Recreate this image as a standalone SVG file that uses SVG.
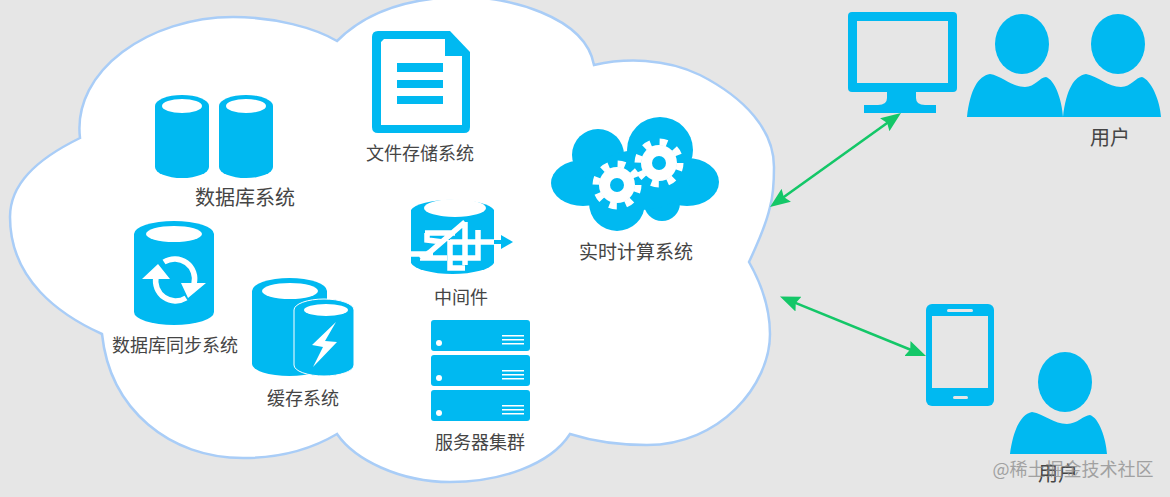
<svg xmlns="http://www.w3.org/2000/svg" width="1170" height="497" viewBox="0 0 1170 497">
<style>
.i{fill:#00b9f1}.w{fill:#fff}.b{fill:#e6e6e6}
.t{font-family:"Noto Sans CJK SC","Liberation Sans",sans-serif;font-size:18px;fill:#454545;text-anchor:middle}
.c{fill:none;stroke:#14c768;stroke-width:2.6;marker-start:url(#a);marker-end:url(#a)}
.g{fill:none;stroke:#fff;stroke-width:7;stroke-dasharray:7.500 8.990}
.r{fill:#fff}
.s{fill:none;stroke:#fff;stroke-width:5.500}
</style>
<defs>
<marker id="a" viewBox="0 0 20 16" refX="12" refY="8" markerWidth="20" markerHeight="16" orient="auto-start-reverse" markerUnits="userSpaceOnUse"><path d="M0 0L20 8L0 16L3 8Z" fill="#14c768"/></marker>
</defs>
<rect width="1170" height="497" class="b"/>
<g id="cloud"><path d="M337 41C358 20 395 -3 465 -3C505 -3 585 15 594 65C625 58 665 58 700 75C745 98 774 130 774 167C774 185 772 200 770 207C766 225 757 245 749 262C762 285 770 310 770 334C770 385 720 445 647 445C620 445 592 441 570 434C550 465 500 482 450 482C400 482 355 460 337 434C310 450 280 458 243 458C170 458 110 410 102 334C60 315 10 280 10 217C10 185 35 160 80 138C72 70 150 17 233 17C275 17 315 28 337 41Z" fill="#fff" stroke="#a9cdf7" stroke-width="2.500"/></g>
<g id="connectors">
<line class="c" x1="776.500" y1="202.300" x2="894.500" y2="117.700"/>
<line class="c" x1="787.400" y1="299.600" x2="918.600" y2="353"/>
</g>
<g id="db">
<path class="i" d="M155 106A27 11 0 0 1 209 106V167A27 11 0 0 1 155 167Z"/><ellipse class="w" cx="182" cy="106" rx="20" ry="7"/>
<path class="i" d="M219 106A27 11 0 0 1 273 106V167A27 11 0 0 1 219 167Z"/><ellipse class="w" cx="246" cy="106" rx="20" ry="7"/>
<text class="t" x="245" y="205" style="font-size:20px">数据库系统</text></g>
<g id="file"><path class="i" d="M378 31H450L470 52V127Q470 133 464 133H378Q372 133 372 127V37Q372 31 378 31Z"/><path class="w" d="M384 39H445V56H462V125H381V42Z"/><rect class="i" x="397" y="63" width="46" height="9"/><rect class="i" x="397" y="80" width="46" height="8"/><rect class="i" x="397" y="96" width="46" height="8"/>
<text class="t" x="420" y="160">文件存储系统</text></g>
<g id="compute">
<ellipse class="i" cx="583" cy="183" rx="32" ry="23"/><circle class="i" cx="598" cy="155" r="26"/><circle class="i" cx="660" cy="150" r="33"/><ellipse class="i" cx="687" cy="182" rx="32" ry="24"/><circle class="i" cx="617" cy="203" r="28"/><circle class="i" cx="662" cy="203" r="18"/><ellipse class="i" cx="640" cy="180" rx="50" ry="30"/>
<circle class="r" cx="617" cy="185" r="18"/><circle class="g" cx="617" cy="185" r="21"/><circle class="i" cx="617" cy="185" r="7"/>
<circle class="r" cx="659" cy="163" r="18"/><circle class="g" cx="659" cy="163" r="21"/><circle class="i" cx="659" cy="163" r="7"/>
<text class="t" x="636" y="259" style="font-size:19px">实时计算系统</text></g>
<g id="middleware"><path class="i" d="M411 210A42 12 0 0 1 494 210V263A42 13 0 0 1 411 263Z"/><ellipse class="w" cx="455" cy="208" rx="31" ry="9"/>
<path class="s" d="M425 233H455M427 233V240L443 242M411 254H433M420 258H447M465 222L430 252L420 258M465 222V265M450 240V268H465M478 230V258H450M450 242H494"/>
<path d="M494 242H503" fill="none" stroke="#00b9f1" stroke-width="4"/><path class="i" d="M501 235L513 242L501 249Z"/>
<text class="t" x="461" y="304">中间件</text></g>
<g id="servers"><rect class="i" x="431" y="320" width="99" height="31" rx="3"/><rect class="i" x="431" y="355" width="99" height="31" rx="3"/><rect class="i" x="431" y="390" width="99" height="31" rx="3"/>
<path class="w" d="M502 335h22v1.500h-22zM502 339h22v1.500h-22zM502 343h22v1.500h-22zM502 370h22v1.500h-22zM502 374h22v1.500h-22zM502 378h22v1.500h-22zM502 405h22v1.500h-22zM502 409h22v1.500h-22zM502 413h22v1.500h-22z"/>
<circle class="w" cx="439" cy="343" r="3"/><circle class="w" cx="439" cy="378" r="3"/><circle class="w" cx="439" cy="413" r="3"/>
<text class="t" x="480" y="449">服务器集群</text></g>
<g id="sync"><path class="i" d="M134 234A40 13 0 0 1 214 234V312A40 13 0 0 1 134 312Z"/><ellipse class="w" cx="174" cy="234" rx="28" ry="8"/>
<path fill="none" stroke="#fff" stroke-width="5.500" d="M156 277A20 20 0 0 0 186 298M164 262A20 20 0 0 1 194 284"/><path class="w" d="M142 279L158 264L170 279ZM181 283H206L188 298Z"/>
<text class="t" x="175" y="352">数据库同步系统</text></g>
<g id="cache"><path class="i" d="M252 291A37.500 13 0 0 1 327 291V364A37.500 12 0 0 1 252 364Z"/><ellipse class="w" cx="290" cy="291" rx="28" ry="8"/>
<path class="i" stroke="#fff" stroke-width="1" d="M294 310A30 11 0 0 1 354 310V365A30 11 0 0 1 294 365Z"/><ellipse class="w" cx="326" cy="310" rx="22" ry="6"/><path class="w" d="M336 322L312 345L323 347L313 367L337 342L325 341Z"/>
<text class="t" x="303" y="405">缓存系统</text></g>
<g id="user1">
<rect class="i" x="848" y="12" width="109" height="80" rx="4"/><rect class="b" x="857" y="21" width="91" height="62"/><path class="i" d="M887 90H916V98Q916 105 925 105H936V113H864V105H878Q887 105 887 98Z"/>
<ellipse class="i" cx="1022" cy="44" rx="27" ry="30"/><path class="i" d="M967 117C970 90 978 76 990 74C1002 76 1012 87 1025 87C1035 87 1040 77 1046 77C1055 80 1062 100 1063 117Z"/>
<ellipse class="i" cx="1118" cy="44" rx="27" ry="30"/><path class="i" d="M1063 117C1066 90 1074 76 1086 74C1098 76 1108 87 1121 87C1131 87 1136 77 1142 77C1151 80 1160 100 1161 117Z"/>
<text class="t" x="1110" y="145" style="font-size:20px">用户</text></g>
<g id="user2">
<rect class="i" x="926" y="304" width="68" height="102" rx="6"/><rect class="b" x="932" y="316" width="56" height="72"/><rect class="b" x="947" y="309" width="26" height="3" rx="1.500"/><rect class="b" x="953" y="396" width="15" height="3" rx="1.500"/>
<ellipse class="i" cx="1065" cy="382" rx="27" ry="30"/><path class="i" d="M1010 454C1013 430 1021 414 1032 412C1044 414 1054 424 1067 424C1077 424 1084 415 1090 415C1099 418 1106 438 1107 454Z"/>
<text class="t" x="1058" y="481" style="font-size:20px">用户</text></g>
<text id="watermark" x="1073" y="476" font-family="Noto Sans CJK SC,Liberation Sans,sans-serif" font-size="18" fill="#8a8a8a" opacity=".75" text-anchor="middle">@稀土掘金技术社区</text>
</svg>
